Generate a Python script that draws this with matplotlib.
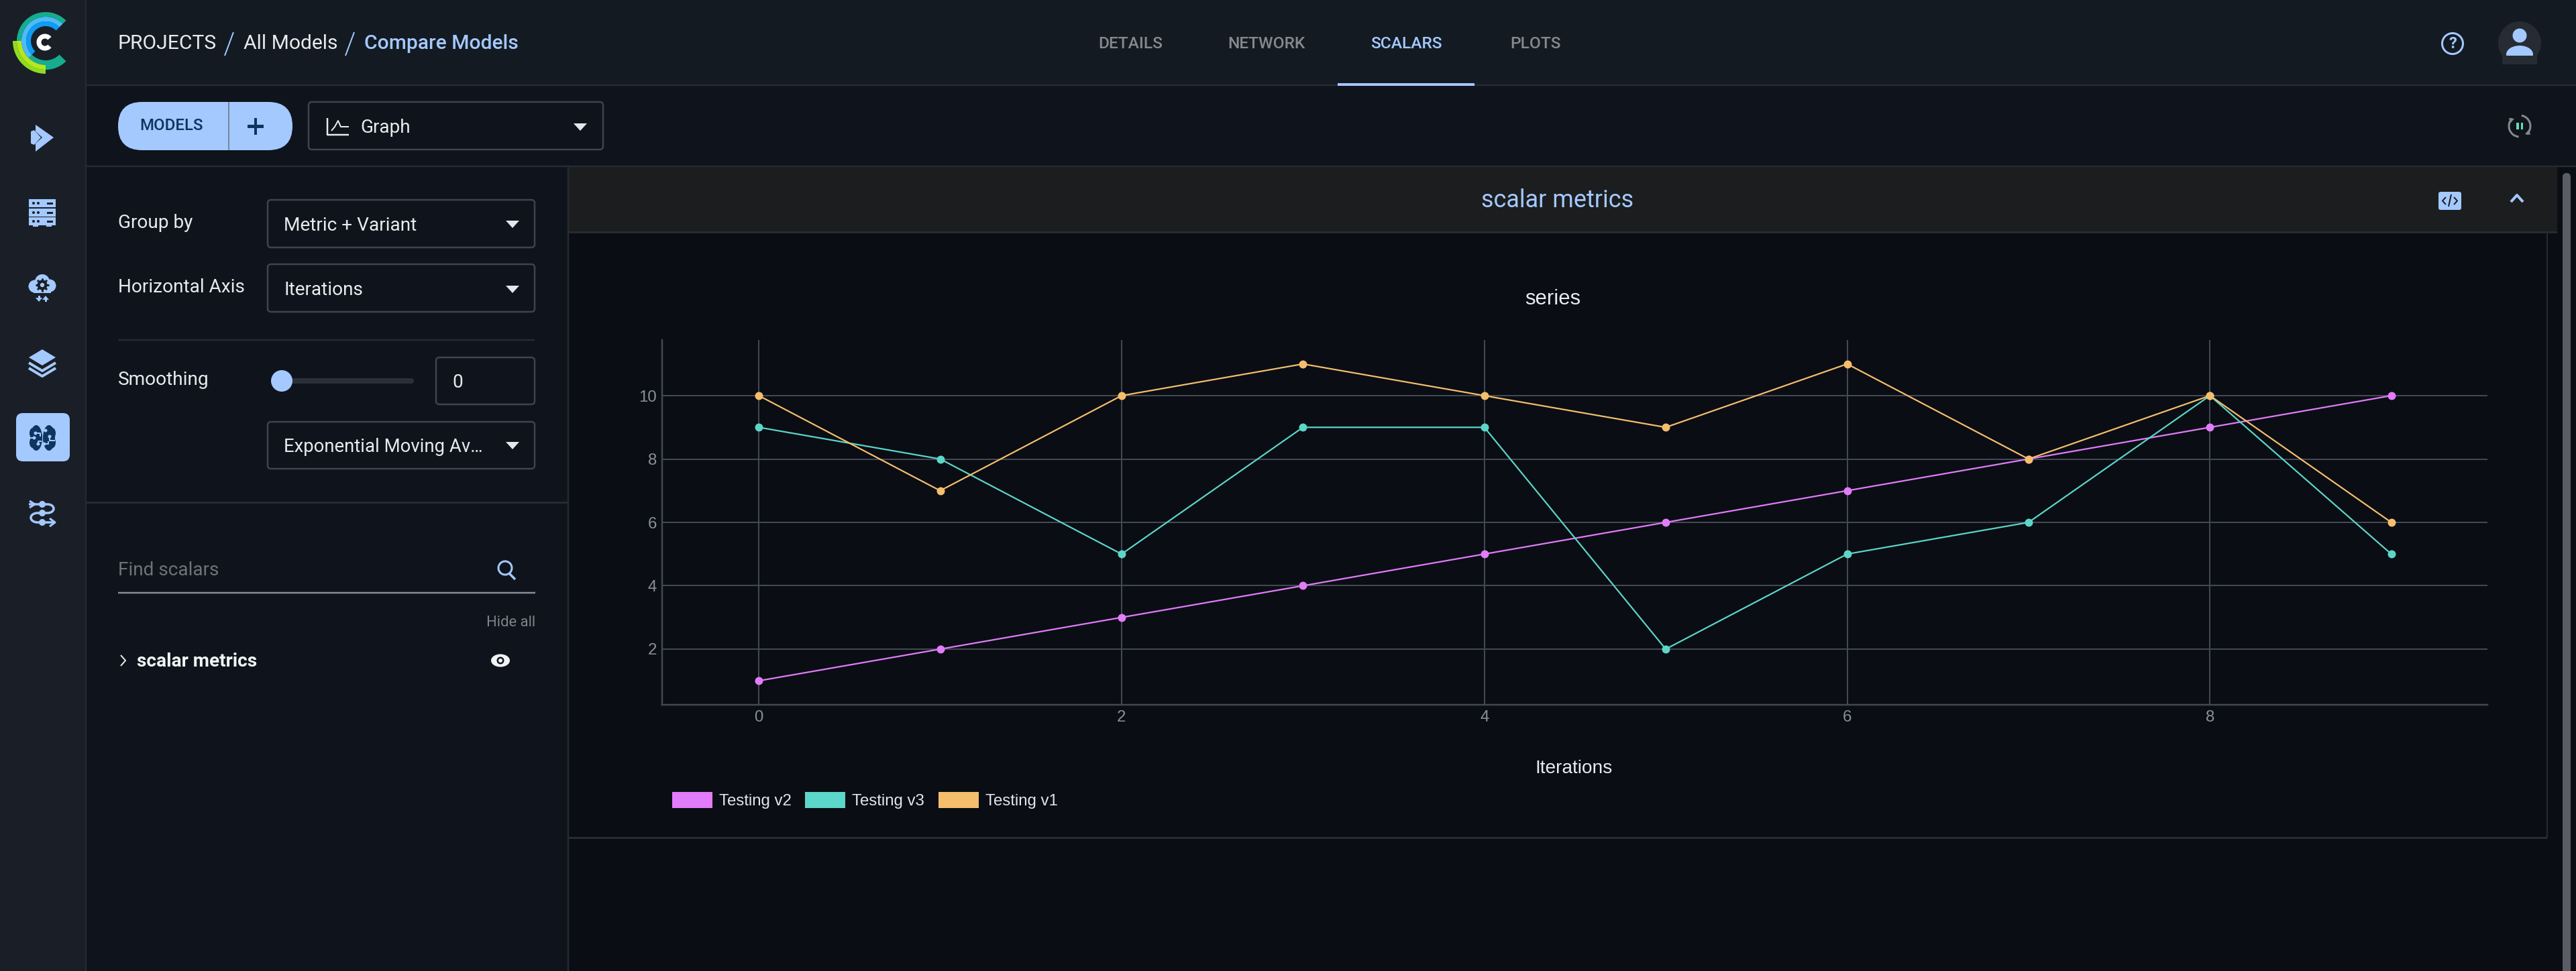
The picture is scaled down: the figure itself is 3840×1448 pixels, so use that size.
import math
import matplotlib
matplotlib.use('Agg')
import matplotlib.pyplot as plt
from matplotlib.patches import Rectangle, FancyBboxPatch, Circle, Wedge, Polygon, Ellipse, Arc, Patch

W, H = 3840, 1448
BLUE = '#a3c9ff'
NAVY = '#0d3560'
BORDER = '#3f434c'
LINE = '#262a32'
TEXT = '#e8eaed'
SIDE = '#1a1f27'
UI = 'Roboto'


def pt(px):
    return px * 0.72


fig = plt.figure(figsize=(W / 100, H / 100), dpi=100, facecolor='#0a0d14')
bg = fig.add_axes([0, 0, 1, 1])
bg.set_xlim(0, W)
bg.set_ylim(H, 0)
bg.axis('off')


def rect(x0, y0, x1, y1, c, z=1):
    bg.add_patch(Rectangle((x0, y0), x1 - x0, y1 - y0, fc=c, ec='none', zorder=z))


def rbox(x0, y0, x1, y1, r, fc='none', ec='none', lw=2.5, z=2):
    bg.add_patch(FancyBboxPatch((x0 + r, y0 + r), x1 - x0 - 2 * r, y1 - y0 - 2 * r,
                                boxstyle='round,pad=%f,rounding_size=%f' % (r, r),
                                fc=fc, ec=ec, lw=pt(lw), zorder=z))


def line(xs, ys, c, lw=2.5, z=3):
    bg.plot(xs, ys, color=c, lw=pt(lw), zorder=z, solid_capstyle='butt', solid_joinstyle='round')


def label(x, y, s, px=28, c=TEXT, ha='left', weight='normal', family=UI):
    # centre alignment counts the descender, so sit a little lower
    bg.text(x, y + 2, s, fontsize=pt(px), color=c, ha=ha, va='center', fontweight=weight, family=family, zorder=5)


def poly(pts, c, z=4):
    bg.add_patch(Polygon(pts, closed=True, fc=c, ec='none', zorder=z))


def dot(x, y, r, c, z=4):
    bg.add_patch(Circle((x, y), r, fc=c, ec='none', zorder=z))


def caret(x, y):
    poly([(x - 10, y - 5), (x + 10, y - 5), (x, y + 6)], '#e4e6ea')


def arc_band(cx, cy, r, w, a1, a2, c, z=3):
    # a1, a2 are screen angles, counter clockwise; the y axis is flipped here
    bg.add_patch(Wedge((cx, cy), r, -a2, -a1, width=w, fc=c, ec='none', zorder=z))


# ---- page regions
rect(0, 0, 128, H, SIDE)
rect(128, 0, W, 127, '#141a22')
rect(128, 127, W, 248, '#0f141c')
rect(128, 248, 847, H, '#0f141c')
rect(847, 248, 3812, 346, '#1c1d1e')
rect(3812, 248, W, H, '#0a0d14')
line([128, W], [126.5, 126.5], LINE, 2.5)
line([128, W], [248, 248], LINE, 2.5)
line([128, 128], [0, H], LINE, 2)
line([847, 847], [248, H], LINE, 2.5)
line([847, 3812], [346, 346], LINE, 3)
line([3797, 3797], [346, 1249], LINE, 2)
line([847, 3797], [1249, 1249], LINE, 3)
line([128, 847], [749, 749], LINE, 3)
rbox(3820, 258, 3832, H + 20, 6, fc='#5a5d65')

# ---- logo
arc_band(68, 61, 43, 7, 45, 180, '#17ac8e')
arc_band(68, 61, 43, 14, 225, 315, '#17ac8e')
arc_band(68, 61, 36, 7, 45, 225, '#4bbcf8')
arc_band(68, 61, 29, 7, 45, 225, '#0f9cf5')
arc_band(68, 61, 49, 6, 180, 270, '#8fdc1f', 4)
arc_band(68, 61, 43, 7, 180, 270, '#b5e61f', 4)
arc_band(67, 63, 12.5, 7, 40, 320, '#ffffff')

# ---- sidebar icons
poly([(46, 196), (51, 194), (61, 205), (51, 216), (46, 214)], BLUE)
poly([(53, 186), (80, 205), (53, 226), (53, 214), (63, 205), (53, 196)], BLUE)

for y0 in (297, 311, 324):
    rect(43, y0, 83, y0 + 12, BLUE, 3)
    dot(50, y0 + 6, 2, SIDE)
    dot(57, y0 + 6, 2, SIDE)
    rect(70, y0 + 4.5, 79, y0 + 7.5, SIDE, 4)
rect(49, 336, 57, 338, BLUE, 3)
rect(69, 336, 77, 338, BLUE, 3)

for cx, cy, r in ((63, 420, 11), (52, 427, 9.5), (74, 426, 9.5)):
    dot(cx, cy, r, BLUE, 3)
rect(50, 425, 76, 437, BLUE, 3)
for i in range(8):
    a = i * math.pi / 4
    line([63 + 6 * math.cos(a), 63 + 10 * math.cos(a)], [425 + 6 * math.sin(a), 425 + 10 * math.sin(a)], SIDE, 3, 4)
dot(63, 425, 7.5, SIDE)
dot(63, 425, 3.2, BLUE, 5)
poly([(53, 444), (63, 444), (58, 450)], BLUE)
rect(56.5, 441, 59.5, 445, BLUE, 4)
poly([(63, 447), (73, 447), (68, 441)], BLUE)
rect(66.5, 446, 69.5, 450, BLUE, 4)

poly([(43, 533), (63, 521), (83, 533), (63, 545)], BLUE)
line([43, 63, 83], [541, 553, 541], BLUE, 4)
line([43, 63, 83], [549, 561, 549], BLUE, 4)

rbox(24, 616, 104, 688, 10, fc=BLUE)
for cx, cy, w_, h_ in ((54, 653, 18, 38), (73, 653, 18, 38), (49, 646, 10, 16), (49, 660, 10, 16),
                       (78, 646, 10, 16), (78, 660, 10, 16)):
    bg.add_patch(Ellipse((cx, cy), w_, h_, fc=NAVY, ec='none', zorder=4))
for xs, ys, r_at in (([53, 60, 60], [646, 646, 651], (53, 646)),
                     ([43, 52], [653, 653], (51, 653)),
                     ([57, 57, 62], [662, 658, 658], (57, 662)),
                     ([68, 64], [642, 642], (68, 642)),
                     ([74, 74, 82], [651, 657, 657], (74, 651)),
                     ([66, 72, 72], [662, 662, 658], (66, 662))):
    line(xs, ys, BLUE, 2, 5)
    dot(r_at[0], r_at[1], 2.5, BLUE, 5)

bg.add_patch(Arc((71, 758.5), 18, 13, theta1=-90, theta2=90, ec=BLUE, lw=pt(3.5), zorder=4))
bg.add_patch(Arc((56, 772), 20, 14, theta1=90, theta2=270, ec=BLUE, lw=pt(3.5), zorder=4))
line([43, 71], [752, 752], BLUE, 3.5)
line([56, 71], [765, 765], BLUE, 3.5)
line([56, 80], [779, 779], BLUE, 3.5)
line([44, 52, 44], [747, 752, 757], BLUE, 3)
line([74, 82, 74], [773, 779, 785], BLUE, 3)
dot(63, 752, 5, BLUE)
dot(63, 765, 5, BLUE)
dot(63, 779, 5, BLUE)

# ---- top bar
label(176, 63, 'PROJECTS', 30, TEXT)
line([335, 348], [83, 48], BLUE, 2)
label(363, 63, 'All Models', 30, TEXT)
line([515, 528], [83, 48], BLUE, 2)
label(543, 63, 'Compare Models', 30, BLUE, weight='medium')
for x, s, c in ((1685, 'DETAILS', '#85898e'), (1888, 'NETWORK', '#85898e'),
                (2096, 'SCALARS', BLUE), (2289, 'PLOTS', '#85898e')):
    label(x, 63, s, 24.5, c, ha='center', weight='medium')
rect(1994, 124, 2198, 128, BLUE, 4)
bg.add_patch(Circle((3656, 65), 15.5, fc='none', ec=BLUE, lw=pt(3), zorder=4))
label(3656, 63, '?', 24, BLUE, ha='center', weight='bold')
dot(3756, 64, 32, '#262b34', 3)
dot(3756, 53, 10.5, BLUE)
bg.add_patch(Ellipse((3756, 81), 40, 26, fc=BLUE, ec='none', zorder=4))
rect(3730, 83, 3782, 96, '#262b34', 4)

# ---- toolbar
rbox(176, 152, 436, 224, 36, fc=BLUE)
line([341, 341], [152, 224], '#77889c', 2)
label(256, 186, 'MODELS', 24, NAVY, ha='center', weight='medium')
rect(369, 186, 393, 190.5, NAVY, 4)
rect(378.5, 176, 383, 201, NAVY, 4)
rbox(460, 152, 899, 223, 5, ec=BORDER)
line([488, 488, 520], [176, 201, 201], TEXT, 2.5)
line([494, 499, 504, 508, 520], [195, 189, 180, 189, 189], TEXT, 2)
label(537, 188, 'Graph', 28)
caret(865, 189)
bg.add_patch(Arc((3756, 188), 32, 32, theta1=-80, theta2=50, ec='#85888d', lw=pt(3), zorder=4))
bg.add_patch(Arc((3756, 188), 32, 32, theta1=95, theta2=225, ec='#85888d', lw=pt(3), zorder=4))
poly([(3740, 176), (3748, 177), (3742, 184)], '#85888d')
poly([(3772, 201), (3764, 200), (3770, 193)], '#85888d')
rect(3751, 183, 3754.5, 193, '#63dcb8', 4)
rect(3758, 183, 3761, 193, '#63dcb8', 4)

# ---- left panel
label(176, 331, 'Group by', 28)
rbox(399, 298, 797, 369, 5, ec=BORDER)
label(423, 334, 'Metric + Variant', 28)
caret(764, 334)
label(176, 427, 'Horizontal Axis', 28)
rbox(399, 394, 797, 465, 5, ec=BORDER)
label(423, 431, 'Iterations', 28)
caret(764, 431)
line([176, 797], [506.5, 506.5], LINE, 2.5)
label(176, 565, 'Smoothing', 28)
rbox(421, 564, 617, 572, 4, fc='#2a2f38')
dot(420, 568, 16, BLUE)
rbox(650, 533, 797, 603, 5, ec=BORDER)
label(674, 568, '0', 28)
rbox(399, 629, 797, 699, 5, ec=BORDER)
label(423, 664, 'Exponential Moving Av\u2026', 27.5)
caret(764, 664)
label(176, 849, 'Find scalars', 28, '#6f7276')
line([176, 798], [884, 884], '#8a8d92', 2.5)
bg.add_patch(Circle((753, 847), 10, fc='none', ec=BLUE, lw=pt(3), zorder=4))
line([759, 768], [855, 864], BLUE, 3.5)
label(798, 927, 'Hide all', 22, '#7f8286', ha='right')
line([180, 187, 180], [977, 985, 993], TEXT, 2)
label(204, 985, 'scalar metrics', 28, '#f2f3f5', weight='bold')
bg.add_patch(Ellipse((746, 985), 28, 19, fc='#f2f3f5', ec='none', zorder=4))
dot(746, 985, 5.5, '#0f141c', 5)
dot(746, 985, 3, '#f2f3f5', 6)

# ---- section header
label(2322, 297, 'scalar metrics', 36, BLUE, ha='center')
rbox(3635, 286, 3669, 313, 3, fc=BLUE)
line([3646, 3641, 3646], [294, 299.5, 305], '#1c1d1e', 2)
line([3658, 3663, 3658], [294, 299.5, 305], '#1c1d1e', 2)
line([3650, 3654], [308, 290], '#1c1d1e', 2)
line([3743, 3752, 3761], [301, 291, 301], BLUE, 4)

# ---- the chart
iterations = [0, 1, 2, 3, 4, 5, 6, 7, 8, 9]
series = {
    'Testing v2': ([1, 2, 3, 4, 5, 6, 7, 8, 9, 10], '#e27cfa'),
    'Testing v3': ([9, 8, 5, 9, 9, 2, 5, 6, 10, 5], '#5cd6c8'),
    'Testing v1': ([10, 7, 10, 11, 10, 9, 11, 8, 10, 6], '#f5be6c'),
}

ax = fig.add_axes([987 / W, 1 - 1051 / H, (3708 - 987) / W, (1051 - 507) / H])
ax.patch.set_alpha(0)
handles = []
for name, (values, color) in series.items():
    ax.plot(iterations, values, color=color, lw=pt(2.2), marker='o', ms=pt(12), mew=0, zorder=3)
    handles.append(Patch(fc=color, ec='none', label=name))

ax.set_xlim(-0.533, 9.53)
ax.set_ylim(0.243, 11.757)
ax.set_xticks([0, 2, 4, 6, 8])
ax.set_yticks([2, 4, 6, 8, 10])
ax.grid(True, color='#434852', lw=pt(2))
ax.set_axisbelow(True)
for side in ('top', 'right'):
    ax.spines[side].set_visible(False)
for side in ('left', 'bottom'):
    ax.spines[side].set_color('#434852')
    ax.spines[side].set_linewidth(pt(2.5))
ax.tick_params(length=0, labelsize=pt(24), labelcolor='#8b8f96', pad=pt(8))
for t in ax.get_xticklabels() + ax.get_yticklabels():
    t.set_family('Liberation Sans')
ax.set_title('series', x=0.488, y=1.096, va='center', fontsize=pt(31), color='#e8eaed', family='Liberation Sans')
ax.set_xlabel('Iterations', fontsize=pt(28), color='#e8eaed', family='Liberation Sans')
ax.xaxis.set_label_coords(0.4995, -0.175)
ax.xaxis.label.set_va('center')

leg = fig.legend(handles=handles, loc='lower left', bbox_to_anchor=(1002 / W, 1 - 1206 / H), ncol=3,
                 frameon=False, fontsize=pt(24), handlelength=2.5, handleheight=1.12, handletextpad=0.42,
                 columnspacing=0.85, borderpad=0, borderaxespad=0)
for t in leg.get_texts():
    t.set_color('#e3e5e8')
    t.set_family('Liberation Sans')

fig.savefig('out.png', dpi=100, facecolor=fig.get_facecolor())
